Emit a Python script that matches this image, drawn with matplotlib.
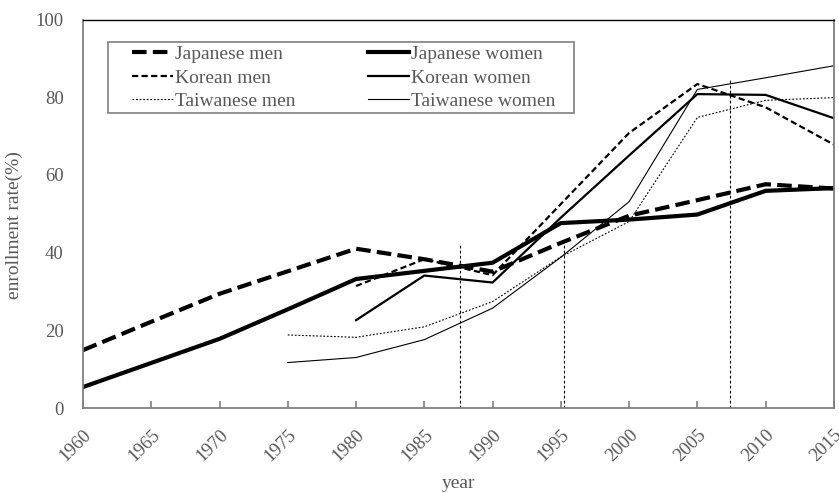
import matplotlib
matplotlib.use("Agg")
import matplotlib.pyplot as plt
from matplotlib.patches import Rectangle

years_jp = [1960, 1965, 1970, 1975, 1980, 1985, 1990, 1995, 2000, 2005, 2010, 2015]
jp_men   = [14.9, 22.2, 29.4, 35.2, 41.0, 38.3, 35.1, 42.5, 49.5, 53.5, 57.6, 56.5]
jp_women = [5.4, 11.6, 17.8, 25.4, 33.2, 35.3, 37.4, 47.6, 48.5, 49.8, 55.9, 56.6]

years_kr = [1980, 1985, 1990, 1995, 2000, 2005, 2010, 2015]
kr_men   = [31.4, 38.3, 34.2, 52.5, 70.8, 83.4, 77.4, 67.8]
kr_women = [22.6, 34.1, 32.3, 49.0, 65.0, 80.8, 80.6, 74.6]

years_tw = [1975, 1980, 1985, 1990, 1995, 2000, 2005, 2010, 2015]
tw_men   = [18.8, 18.2, 20.9, 27.4, 38.9, 48.0, 74.8, 79.2, 79.9]
tw_women = [11.7, 13.0, 17.6, 25.7, 38.8, 53.1, 82.0, 85.0, 88.1]

marker_years  = [1987.6, 1995.2, 2007.4]
marker_tops   = [42.0, 42.5, 85.0]

xticks = list(range(1960, 2016, 5))
yticks = [0, 20, 40, 60, 80, 100]

gray = "#595959"
plt.rcParams['font.family'] = ['Liberation Serif', 'DejaVu Serif']

fig = plt.figure(figsize=(8.39, 4.93), dpi=100)
ax = fig.add_axes([0.0989, 0.1724, 0.895, 0.788])

ax.plot(years_jp, jp_men, color='black', lw=3.0, ls=(0, (3.5, 1.5)), label='Japanese men')
ax.plot(years_jp, jp_women, color='black', lw=3.0, ls='-', label='Japanese women')
ax.plot(years_kr, kr_men, color='black', lw=1.6, ls=(0, (2.8, 1.5)), label='Korean men')
ax.plot(years_kr, kr_women, color='black', lw=1.6, ls='-', label='Korean women')
ax.plot(years_tw, tw_men, color='black', lw=0.8, ls=(0, (1.6, 1.6)), label='Taiwanese men')
ax.plot(years_tw, tw_women, color='black', lw=0.8, ls='-', label='Taiwanese women')

ax.vlines(marker_years, 0, marker_tops, colors='black', lw=0.8, linestyles=(0, (2.5, 2)))

ax.set_xlim(1960, 2015)
ax.set_ylim(0, 100)
ax.set_xticks(xticks)
ax.set_xticklabels([str(t) for t in xticks], rotation=45, ha='right', va='top',
                   rotation_mode='anchor', color=gray, fontsize=13.5)
ax.set_yticks(yticks)
ax.set_yticklabels([str(t) for t in yticks], color=gray, fontsize=13.5)
ax.tick_params(axis='x', direction='in', length=5, color='#7f7f7f', width=1.2, pad=13)
ax.tick_params(axis='y', length=0, pad=14)

for s in ['left', 'bottom', 'right']:
    ax.spines[s].set_color('#7f7f7f')
    ax.spines[s].set_linewidth(1.3)
ax.spines['top'].set_color('black')
ax.spines['top'].set_linewidth(1.0)

ax.set_xlabel('year', color=gray, fontsize=14, labelpad=7.5)
ax.set_ylabel('enrollment rate(%)', color=gray, fontsize=14)
ax.yaxis.set_label_coords(-0.080, 0.47)

handles, labels = ax.get_legend_handles_labels()
order = [0, 2, 4, 1, 3, 5]
leg = ax.legend([handles[i] for i in order], [labels[i] for i in order], ncol=2,
                loc='upper left', bbox_to_anchor=(0.0652, 0.9335), frameon=False,
                fontsize=14, handlelength=2.1, handletextpad=0.1,
                columnspacing=3.73, labelspacing=0.31, borderpad=0, borderaxespad=0)
for t in leg.get_texts():
    t.set_color(gray)

ax.add_patch(Rectangle((0.0333, 0.759), 0.6205, 0.183, transform=ax.transAxes,
                       fill=False, edgecolor='#7f7f7f', lw=1.2, zorder=5))

fig.savefig('out.png', dpi=100)
